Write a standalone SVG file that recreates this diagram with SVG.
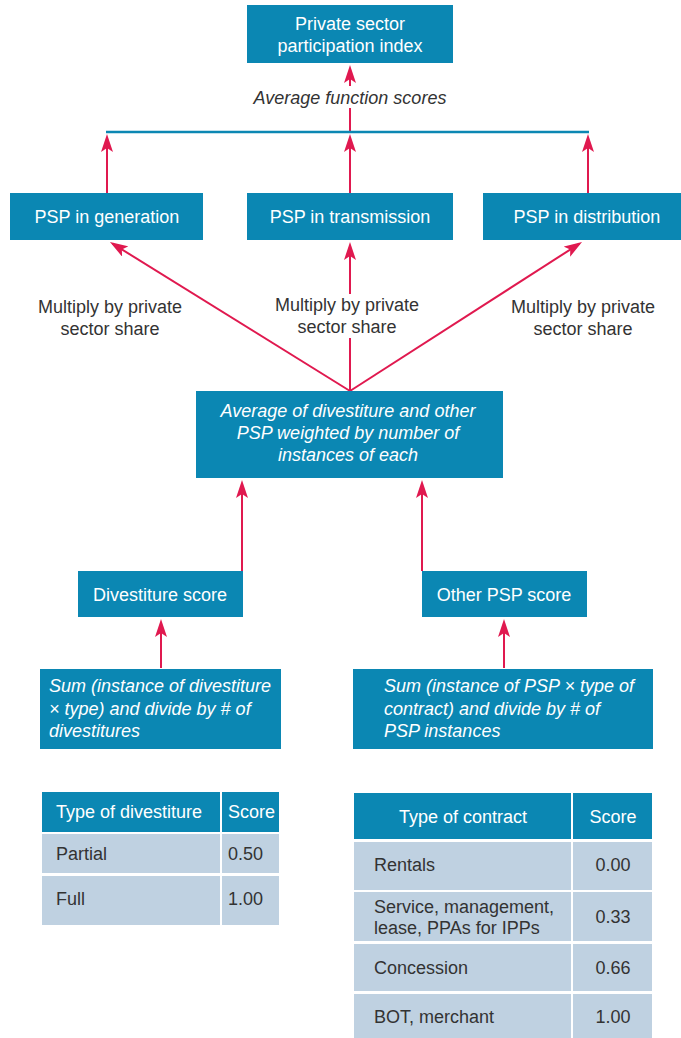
<svg xmlns="http://www.w3.org/2000/svg" width="681" height="1038" viewBox="0 0 681 1038">
<defs>
<style>
.box{fill:#0b87b3}
.wt{fill:#ffffff;font-family:"Liberation Sans",Arial,sans-serif;font-size:18px}
.it{font-style:italic}
.dk{fill:#333333;font-family:"Liberation Sans",Arial,sans-serif;font-size:18px}
.row{fill:#bfd1e1}
.conn{stroke:#e0194f;stroke-width:2;fill:none;marker-end:url(#ah)}
.mid{text-anchor:middle}
</style>
<marker id="ah" markerUnits="userSpaceOnUse" viewBox="0 0 18 12" markerWidth="18" markerHeight="12" refX="15" refY="6" orient="auto">
<path d="M0,0 L18,6 L0,12 L4,6 Z" fill="#e0194f"/>
</marker>
</defs>
<rect width="681" height="1038" fill="#ffffff"/>

<g id="connectors">
<line class="conn" x1="350" y1="131" x2="350" y2="68"/>
<line x1="106" y1="132" x2="589" y2="132" stroke="#0b87b3" stroke-width="2.5"/>
<line class="conn" x1="107" y1="193" x2="107" y2="137"/>
<line class="conn" x1="350" y1="193" x2="350" y2="137"/>
<line class="conn" x1="588" y1="193" x2="588" y2="137"/>
<line class="conn" x1="350" y1="391" x2="112.5" y2="243.6"/>
<line class="conn" x1="350" y1="391" x2="350" y2="245"/>
<line class="conn" x1="350" y1="391" x2="579.5" y2="243.6"/>
<line class="conn" x1="242" y1="571" x2="242" y2="483"/>
<line class="conn" x1="422" y1="571" x2="422" y2="483"/>
<line class="conn" x1="161" y1="668" x2="161" y2="622"/>
<line class="conn" x1="504" y1="668" x2="504" y2="622"/>
</g>

<g id="label-average">
<rect x="250" y="86" width="200" height="22" fill="#ffffff"/>
<text class="dk it mid" x="350" y="104">Average function scores</text>
</g>
<g id="label-mult-left">
<text class="dk mid" x="110" y="313">Multiply by private</text>
<text class="dk mid" x="110" y="335">sector share</text>
</g>
<g id="label-mult-mid">
<rect x="268" y="294" width="160" height="44" fill="#ffffff"/>
<text class="dk mid" x="347" y="311">Multiply by private</text>
<text class="dk mid" x="347" y="333">sector share</text>
</g>
<g id="label-mult-right">
<text class="dk mid" x="583" y="313">Multiply by private</text>
<text class="dk mid" x="583" y="335">sector share</text>
</g>

<g id="node-index">
<rect class="box" x="247" y="5" width="206" height="58"/>
<text class="wt mid" x="350" y="30">Private sector</text>
<text class="wt mid" x="350" y="52">participation index</text>
</g>
<g id="node-generation">
<rect class="box" x="10" y="193" width="193" height="47"/>
<text class="wt mid" x="107" y="223">PSP in generation</text>
</g>
<g id="node-transmission">
<rect class="box" x="247" y="193" width="206" height="47"/>
<text class="wt mid" x="350" y="223">PSP in transmission</text>
</g>
<g id="node-distribution">
<rect class="box" x="483" y="193" width="198" height="47"/>
<text class="wt mid" x="587" y="223">PSP in distribution</text>
</g>
<g id="node-average">
<rect class="box" x="196" y="391" width="307" height="87"/>
<text class="wt it mid" x="348" y="417">Average of divestiture and other</text>
<text class="wt it mid" x="348" y="439">PSP weighted by number of</text>
<text class="wt it mid" x="348" y="461">instances of each</text>
</g>
<g id="node-divestiture">
<rect class="box" x="78" y="571" width="165" height="46"/>
<text class="wt mid" x="160" y="601">Divestiture score</text>
</g>
<g id="node-otherpsp">
<rect class="box" x="422" y="571" width="165" height="46"/>
<text class="wt mid" x="504" y="601">Other PSP score</text>
</g>
<g id="node-sum-div">
<rect class="box" x="40" y="669" width="241" height="80"/>
<text class="wt it" x="49" y="692">Sum (instance of divestiture</text>
<text class="wt it" x="49" y="715">× type) and divide by # of</text>
<text class="wt it" x="49" y="737">divestitures</text>
</g>
<g id="node-sum-psp">
<rect class="box" x="353" y="669" width="300" height="80"/>
<text class="wt it" x="384" y="692">Sum (instance of PSP × type of</text>
<text class="wt it" x="384" y="715">contract) and divide by # of</text>
<text class="wt it" x="384" y="737">PSP instances</text>
</g>

<g id="table-divestiture">
<rect class="box" x="42" y="792" width="178" height="40"/>
<rect class="box" x="222" y="792" width="57" height="40"/>
<rect class="row" x="42" y="834" width="178" height="39"/>
<rect class="row" x="222" y="834" width="57" height="39"/>
<rect class="row" x="42" y="876" width="178" height="49"/>
<rect class="row" x="222" y="876" width="57" height="49"/>
<text class="wt" x="56" y="818">Type of divestiture</text>
<text class="wt" x="228" y="818">Score</text>
<text class="dk" x="56" y="860">Partial</text>
<text class="dk" x="228" y="860">0.50</text>
<text class="dk" x="56" y="905">Full</text>
<text class="dk" x="228" y="905">1.00</text>
</g>

<g id="table-contract">
<rect class="box" x="354" y="793" width="217" height="46"/>
<rect class="box" x="573" y="793" width="79" height="46"/>
<rect class="row" x="354" y="842" width="217" height="48"/>
<rect class="row" x="573" y="842" width="79" height="48"/>
<rect class="row" x="354" y="892" width="217" height="49"/>
<rect class="row" x="573" y="892" width="79" height="49"/>
<rect class="row" x="354" y="944" width="217" height="47"/>
<rect class="row" x="573" y="944" width="79" height="47"/>
<rect class="row" x="354" y="994" width="217" height="44"/>
<rect class="row" x="573" y="994" width="79" height="44"/>
<text class="wt mid" x="463" y="823">Type of contract</text>
<text class="wt mid" x="613" y="823">Score</text>
<text class="dk" x="374" y="871">Rentals</text>
<text class="dk mid" x="613" y="871">0.00</text>
<text class="dk" x="374" y="913">Service, management,</text>
<text class="dk" x="374" y="934">lease, PPAs for IPPs</text>
<text class="dk mid" x="613" y="923">0.33</text>
<text class="dk" x="374" y="974">Concession</text>
<text class="dk mid" x="613" y="974">0.66</text>
<text class="dk" x="374" y="1023">BOT, merchant</text>
<text class="dk mid" x="613" y="1023">1.00</text>
</g>
</svg>
